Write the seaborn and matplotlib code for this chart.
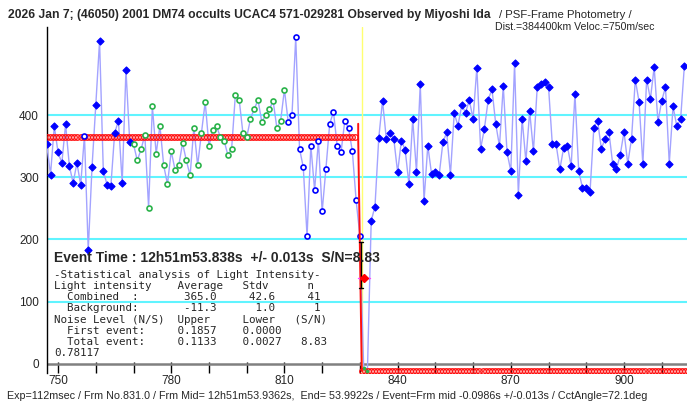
import numpy as np
import pandas as pd
import matplotlib
matplotlib.use("Agg")
import matplotlib.pyplot as plt
import seaborn as sns

# ---------------- data ----------------
first_frame = 747
intensity = [
    353, 304, 382, 340, 323, 385, 318, 291, 323, 288,
    367, 183, 316, 416, 519, 310, 288, 286, 371, 391,
    291, 473, 356, 353, 327, 345, 368, 251, 414, 338,
    383, 319, 289, 342, 312, 319, 355, 327, 303, 380,
    319, 371, 421, 350, 376, 382, 365, 359, 336, 345,
    433, 425, 371, 364, 394, 410, 424, 389, 400, 409,
    423, 379, 391, 441, 389, 400, 525, 346, 316, 205,
    351, 279, 359, 245, 314, 386, 405, 350, 340, 391,
    379, 342, 263, 206, -6, -11, 230, 253, 363, 423,
    362, 371, 361, 308, 359, 344, 289, 393, 309, 450,
    262, 351, 305, 308, 303, 356, 372, 304, 403, 383,
    416, 404, 424, 394, 476, 346, 378, 424, 442, 386,
    350, 447, 340, 310, 483, 272, 394, 326, 406, 342,
    445, 450, 453, 445, 353, 353, 313, 347, 350, 318,
    434, 310, 283, 283, 277, 379, 391, 346, 362, 373,
    322, 313, 336, 373, 322, 362, 457, 421, 321, 457,
    426, 477, 389, 423, 445, 322, 414, 382, 393, 479,
]
open_single = [757]
baseline_range = (770, 810)      # green points (n = 41)
event_fit_range = (811, 830)     # open blue points
occulted_range = (831, 832)      # points at background level

star_level = 365.0
background_level = -11.3
drop_frames = [829.55, 830.5]
drop_top = 386
event_line_frame = 830.5
half_point = (831.0, 137.5)
half_err_frame = 830.3
half_err = (121.5, 196.4)
half_time_err = (829.4, 832.7)

grid_values = [100, 200, 300, 400]
y_ticks = [0, 100, 200, 300, 400]
x_label_ticks = [750, 780, 810, 840, 870, 900]
x_minor_ticks = [760, 770, 790, 800, 820, 830, 850, 860, 880, 890, 910]

title_bold = "2026 Jan 7; (46050) 2001 DM74 occults UCAC4 571-029281 Observed by Miyoshi Ida"
title_norm = "/ PSF-Frame Photometry /"
title_line2 = "Dist.=384400km Veloc.=750m/sec"
footer = ("Exp=112msec / Frm No.831.0 / Frm Mid= 12h51m53.9362s,  End= 53.9922s / "
          "Event=Frm mid -0.0986s +/-0.013s / CctAngle=72.1deg")
event_text = "Event Time : 12h51m53.838s  +/- 0.013s  S/N=8.83"
stats_lines = [
    "-Statistical analysis of Light Intensity-",
    "Light intensity    Average   Stdv      n",
    "  Combined  :       365.0     42.6     41",
    "  Background:       -11.3      1.0      1",
    "Noise Level (N/S)  Upper     Lower   (S/N)",
    "  First event:     0.1857    0.0000",
    "  Total event:     0.1133    0.0027   8.83",
    "0.78117",
]

# ---------------- build ----------------
frames = np.arange(first_frame, first_frame + len(intensity))


def kind_of(f):
    if f in open_single:
        return "open"
    if baseline_range[0] <= f <= baseline_range[1]:
        return "green"
    if event_fit_range[0] <= f <= event_fit_range[1]:
        return "open"
    if occulted_range[0] <= f <= occulted_range[1]:
        return "low"
    return "filled"


df = pd.DataFrame({"frame": frames, "intensity": intensity,
                   "kind": [kind_of(f) for f in frames]})

sns.set_style("white")
NARROW = ["Liberation Sans Narrow", "Liberation Sans", "DejaVu Sans"]
plt.rcParams["font.family"] = NARROW

W, H = 687, 403
fig = plt.figure(figsize=(W / 100, H / 100), dpi=100)
ax_top_px, ax_bot_px, ax_left_px = 27, 372.6, 47.3
ax = fig.add_axes([ax_left_px / W, 1 - ax_bot_px / H, 1 - ax_left_px / W,
                   (ax_bot_px - ax_top_px) / H])
ax.set_xlim(747.15, 916.7)
ax.set_ylim(-14.0, 541.6)

for g in grid_values:
    ax.axhline(g, color="#60f4ff", lw=1.5, zorder=1)
ax.axhline(0, color="#808080", lw=1.8, zorder=2)
ax.axvline(event_line_frame, color="#ffff70", lw=1.0, zorder=2)

sns.lineplot(data=df, x="frame", y="intensity", ax=ax, color="#a3a3ff",
             lw=1.0, estimator=None, sort=False, zorder=3)

sub = df[df.kind == "filled"]
sns.scatterplot(data=sub, x="frame", y="intensity", ax=ax, marker="D", s=13,
                color="#0000ff", edgecolor="#0000ff", linewidth=0.8, zorder=5)
sub = df[df.kind == "green"]
sns.scatterplot(data=sub, x="frame", y="intensity", ax=ax, marker="o", s=13,
                facecolor="white", edgecolor="#2ab34a", linewidth=1.2, zorder=5)
sub = df[df.kind == "open"]
sns.scatterplot(data=sub, x="frame", y="intensity", ax=ax, marker="o", s=13,
                facecolor="white", edgecolor="#0000ff", linewidth=1.2, zorder=5)
sub = df[df.kind == "low"]
sns.scatterplot(data=sub, x="frame", y="intensity", ax=ax, marker="o", s=5,
                color="#2ab34a", edgecolor="#2ab34a", linewidth=0.5, zorder=5)

# model (red chain lines)
step = 0.8
xs_top = np.arange(ax.get_xlim()[0], drop_frames[0] - 0.5, step)
ax.plot(xs_top, np.full_like(xs_top, star_level), ls="none", marker="o", ms=4.0,
        mfc="none", mec="#ff1010", mew=0.9, zorder=4, clip_on=True)
xs_bot = np.arange(drop_frames[1], ax.get_xlim()[1] + step, step)
ax.plot(xs_bot, np.full_like(xs_bot, background_level), ls="none", marker="o", ms=4.0,
        mfc="none", mec="#ff1010", mew=0.9, zorder=4, clip_on=True)
ax.plot([drop_frames[0], drop_frames[0], drop_frames[1]],
        [drop_top, star_level, background_level], color="#ff1010", lw=1.4, zorder=6)

# half-intensity point with error bars
ax.plot([half_err_frame, half_err_frame], list(half_err), color="black", lw=1.0, zorder=6)
for yv in half_err:
    ax.plot([half_err_frame - 0.6, half_err_frame + 0.6], [yv, yv], color="black", lw=1.0, zorder=6)
ax.plot(list(half_time_err), [half_point[1]] * 2, color="#ff40ff", lw=1.0, zorder=6)
ax.plot([half_point[0]], [half_point[1]], marker="D", ms=4.0, color="#ff0000", zorder=7)

# axes styling
for s in ["top", "right", "bottom"]:
    ax.spines[s].set_visible(False)
ax.spines["left"].set_color("black")
ax.spines["left"].set_linewidth(1.0)
ax.set_xticks(x_label_ticks)
ax.set_xticklabels([str(t) for t in x_label_ticks])
ax.set_xticks(x_minor_ticks, minor=True)
ax.tick_params(axis="x", which="both", direction="in", length=8, width=1,
               color="black", pad=2, labelsize=8.5, bottom=True)
ax.set_yticks(y_ticks)
ax.set_yticklabels([str(t) for t in y_ticks])
ax.tick_params(axis="y", length=0, pad=6, labelsize=8.5, left=True)
ax.set_xlabel("")
ax.set_ylabel("")

# texts
t1 = fig.text(8 / W, 1 - 15 / H, title_bold, fontweight="bold", fontsize=9,
              va="center", ha="left")
t2 = fig.text(499 / W, 1 - 15 / H, title_norm, fontsize=9, va="center", ha="left")
t3 = fig.text(495 / W, 1 - 27.5 / H, title_line2, fontsize=9, va="center", ha="left")
t4 = fig.text(7 / W, 1 - 396 / H, footer, fontsize=9, va="center", ha="left")
t5 = fig.text(54 / W, 1 - 258 / H, event_text, fontweight="bold", fontsize=9,
              va="center", ha="left", family=["Liberation Sans", "DejaVu Sans"])
stat_texts = []
stat_y = [275, 286, 297, 308, 320, 331, 342, 353]
for yy, line in zip(stat_y, stats_lines):
    stat_texts.append(fig.text(54 / W, 1 - yy / H, line, fontsize=8, va="center",
                               ha="left", family=["DejaVu Sans Mono"]))

fig.canvas.draw()
r = fig.canvas.get_renderer()


def fit(t, target):
    w = t.get_window_extent(r).width
    t.set_fontsize(t.get_fontsize() * target / w)


fit(t1, 486)
fit(t2, 133)
fit(t3, 160)
fit(t4, 641)
fit(t5, 324)
w0 = stat_texts[0].get_window_extent(r).width
for t in stat_texts:
    t.set_fontsize(t.get_fontsize() * 270 / w0)

fig.savefig("out.png", dpi=100)
